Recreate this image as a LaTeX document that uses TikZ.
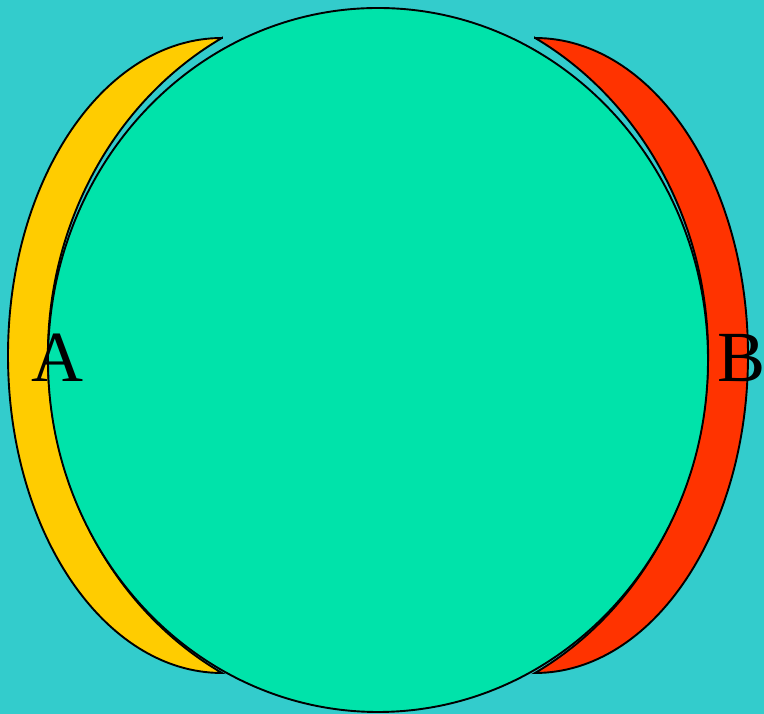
\documentclass[tikz,border=0pt]{standalone}
\usepackage{fontspec}
\setmainfont{Liberation Serif}
\definecolor{bgteal}{HTML}{33CCCC}
\definecolor{cyellow}{HTML}{FFCC00}
\definecolor{cred}{HTML}{FF3300}
\definecolor{cgreen}{HTML}{00E3AA}
\begin{document}
\begin{tikzpicture}[x=1pt,y=1pt,
  shapeline/.style={draw=black,line width=1.9pt,line join=miter},
  setlabel/.style={inner sep=0pt,font=\fontsize{72}{72}\selectfont}]
\fill[bgteal] (0,0) rectangle (764,714);
\useasboundingbox (0,0) rectangle (764,714);
% yellow crescent A
\path[shapeline,fill=cyellow] (222,676) arc[start angle=90,end angle=270,x radius=214,y radius=317.5]
  arc[start angle=241.8,end angle=118.2,x radius=330,y radius=360.3] -- cycle;
% red crescent B
\path[shapeline,fill=cred] (535,676) arc[start angle=90,end angle=-90,x radius=213,y radius=317.5]
  arc[start angle=-61.6,end angle=61.6,x radius=330,y radius=361] -- cycle;
% green ellipse
\path[shapeline,fill=cgreen] (378,354) ellipse[x radius=330,y radius=352];
\node[setlabel] (A) at (57,356) {A};
\node[setlabel] (B) at (742,356) {B};
\end{tikzpicture}
\end{document}
